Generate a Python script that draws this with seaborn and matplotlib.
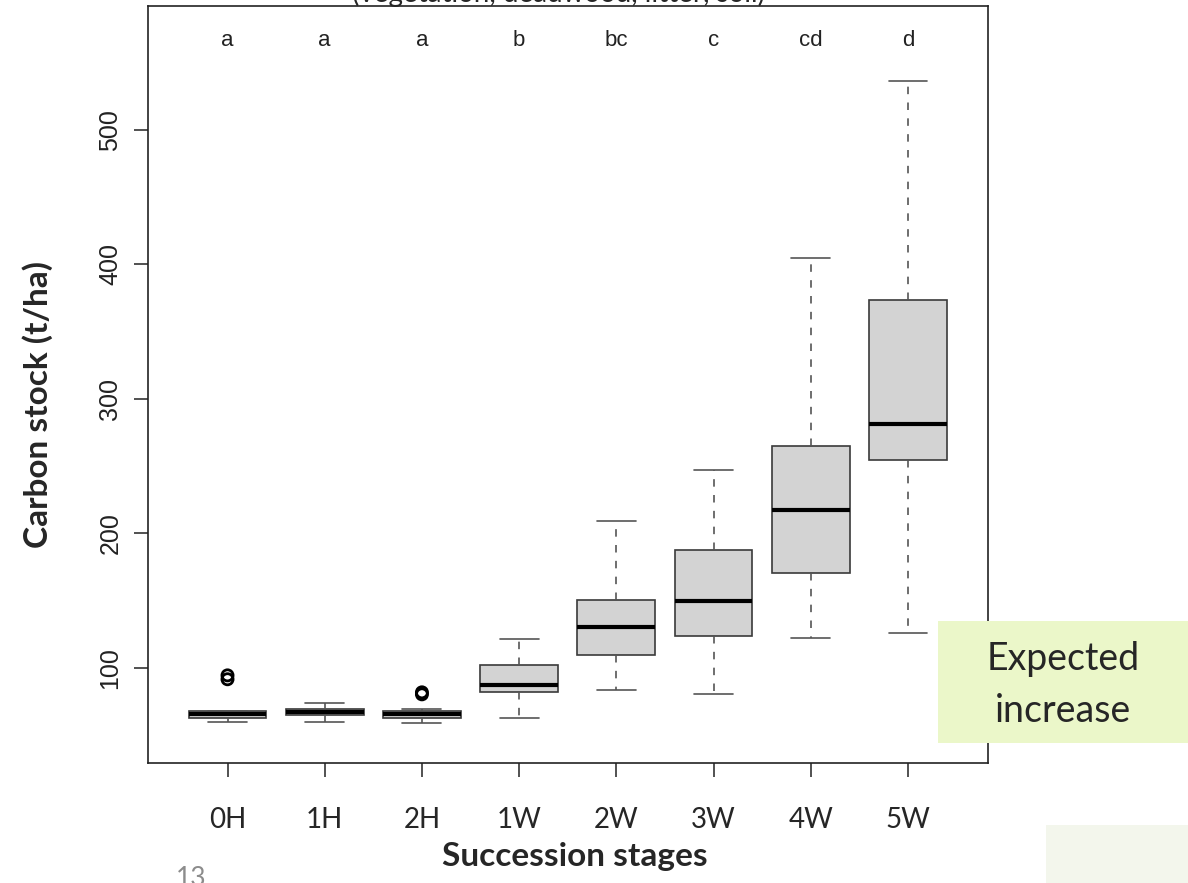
import numpy as np
import pandas as pd
import matplotlib.pyplot as plt
import seaborn as sns
from matplotlib.patches import Rectangle

# values (t/ha)
stages = ["0H", "1H", "2H", "1W", "2W", "3W", "4W", "5W"]
lower_whisker = [60.2, 60.2, 59.5, 62.7, 83.8, 81.0, 122.0, 125.9]
q1 = [63.0, 65.4, 63.0, 82.0, 110.0, 123.9, 170.3, 254.3]
median = [65.7, 67.6, 66.0, 87.5, 130.3, 150.2, 217.1, 281.4]
q3 = [68.4, 69.7, 68.4, 102.6, 150.7, 187.4, 264.8, 373.3]
upper_whisker = [68.4, 74.1, 69.4, 121.7, 208.9, 246.8, 404.3, 536.3]
outlier_stage = ["0H", "0H", "2H", "2H"]
outlier_value = [94.6, 91.7, 82.0, 80.5]
letters = ["a", "a", "a", "b", "bc", "c", "cd", "d"]

# five-number summary per stage -> long table for seaborn
rows = []
for i, s in enumerate(stages):
    for v in (lower_whisker[i], q1[i], median[i], q3[i], upper_whisker[i]):
        rows.append({"stage": s, "value": v})
df = pd.DataFrame(rows)

sns.set_style("ticks")
plt.rcParams["font.family"] = ["Liberation Sans", "DejaVu Sans"]

W, H = 1188, 883
fig = plt.figure(figsize=(W / 100, H / 100), dpi=100)
ax = fig.add_axes([147.5 / W, 1 - 763 / H, (988 - 147.5) / W, (763 - 6) / H])


def fx(x):
    return x / W


def fy(y):
    return 1 - y / H


sns.boxplot(data=df, x="stage", y="value", order=stages, ax=ax,
            color="#d3d3d3", saturation=1, width=0.8, whis=(0, 100),
            linecolor="#3a3a3a", linewidth=1.2, fliersize=0,
            medianprops=dict(color="black", linewidth=3),
            whiskerprops=dict(color="#555555", linestyle=(0, (4.5, 5))),
            capprops=dict(color="#555555"))

n_before = len(ax.collections)
sns.stripplot(x=outlier_stage, y=outlier_value, order=stages, jitter=False,
              color="black", size=8, linewidth=2, ax=ax)
for coll in ax.collections[n_before:]:
    coll.set_facecolor("none")
    coll.set_edgecolor("black")

ax.set_xlim(-0.823, 7.823)
ax.set_ylim(29.5, 591.8)
ax.set_xlabel("")
ax.set_ylabel("")

ax.set_yticks([100, 200, 300, 400, 500])
ax.tick_params(axis="y", length=10, width=1.1, pad=8, labelsize=18,
               color="#222222", labelcolor="#222222")
plt.setp(ax.get_yticklabels(), rotation=90, va="center")
ax.tick_params(axis="x", length=10, width=1.1, pad=22, labelsize=20, color="#222222")
for lab in ax.get_xticklabels():
    lab.set_fontfamily("Lato")

for sp in ax.spines.values():
    sp.set_visible(True)
    sp.set_linewidth(1.2)
    sp.set_color("#222222")

for i, lt in enumerate(letters):
    ax.text(i, 566.5, lt, ha="center", va="center", fontsize=16, color="#222222")

# slide overlay text
fig.text(fx(558), fy(2), "(vegetation, deadwood, litter, soil)", ha="center",
         va="baseline", fontsize=20, family="Lato")
fig.text(fx(38), fy(405), "Carbon stock (t/ha)", rotation=90, ha="center",
         va="center", fontsize=24, fontweight="bold", family="Lato")
fig.text(fx(575), fy(866), "Succession stages", ha="center", va="baseline",
         fontsize=24, fontweight="bold", family="Lato")
fig.text(fx(176), fy(886), "13", ha="left", va="baseline", fontsize=19,
         family="Lato", color="#8c8c8c")

fig.patches.append(Rectangle((fx(938), fy(743)), fx(250), 122 / H,
                             transform=fig.transFigure, facecolor="#ebf7c9",
                             edgecolor="none", zorder=5))
fig.patches.append(Rectangle((fx(1046), fy(883)), fx(142), 58 / H,
                             transform=fig.transFigure, facecolor="#f3f6ec",
                             edgecolor="none", zorder=5))
fig.text(fx(1063), fy(670), "Expected", ha="center", va="baseline",
         fontsize=27, family="Lato", zorder=6)
fig.text(fx(1063), fy(722), "increase", ha="center", va="baseline",
         fontsize=27, family="Lato", zorder=6)

fig.savefig("out.png", dpi=100)
